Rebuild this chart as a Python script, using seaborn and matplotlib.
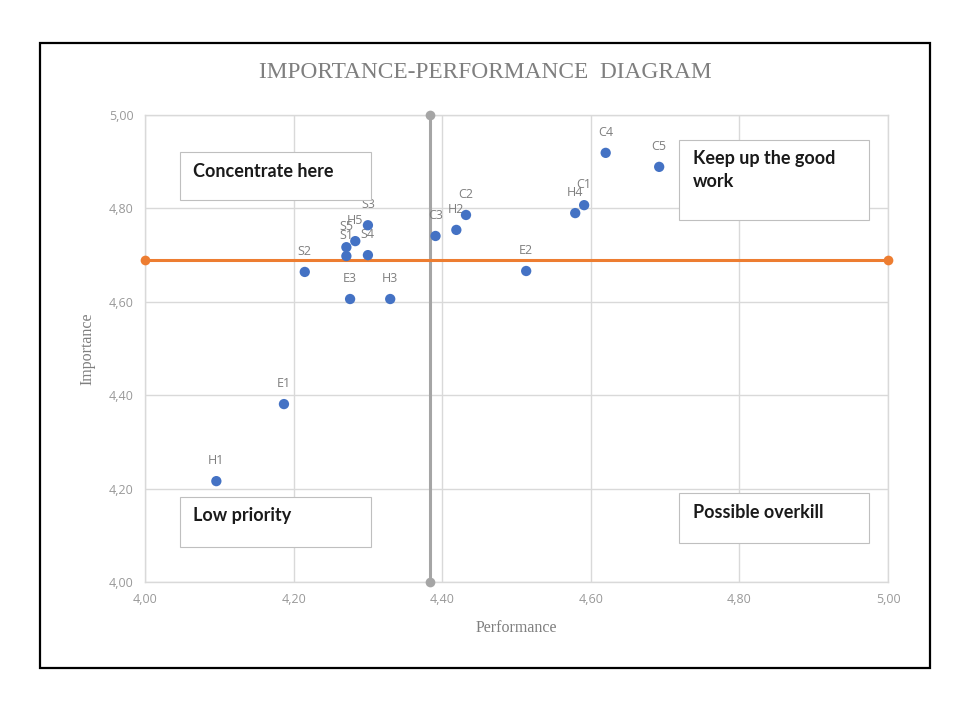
import numpy as np
import pandas as pd
import matplotlib
matplotlib.use("Agg")
import matplotlib.pyplot as plt
import seaborn as sns
from matplotlib.patches import Rectangle
from matplotlib.ticker import FuncFormatter

# valores
labels = ["H1", "E1", "S2", "E3", "H3", "S3", "H5", "S5", "S1", "S4",
          "C3", "H2", "C2", "E2", "H4", "C1", "C4", "C5"]
performance = [4.096, 4.187, 4.215, 4.276, 4.330, 4.300, 4.283, 4.271, 4.271, 4.300,
               4.391, 4.419, 4.432, 4.513, 4.579, 4.591, 4.620, 4.692]
importance = [4.216, 4.381, 4.664, 4.606, 4.606, 4.764, 4.730, 4.717, 4.698, 4.700,
              4.741, 4.754, 4.786, 4.666, 4.790, 4.807, 4.919, 4.889]
perf_mean = 4.383
imp_mean = 4.69
axis_range = [4.0, 5.0]
quadrants = ["Concentrate here", "Keep up the good\nwork", "Low priority", "Possible overkill"]

df = pd.DataFrame({"label": labels, "Performance": performance, "Importance": importance})

sns.set_theme(style="white")
plt.rcParams["font.family"] = ["Liberation Serif", "DejaVu Serif"]

fig = plt.figure(figsize=(9.7, 7.04), dpi=100)
ax = fig.add_axes([0.1495, 0.1733, 0.7660, 0.6633])

# marco negro exterior
fig.patches.append(Rectangle((0.041, 0.051), 0.918, 0.888, transform=fig.transFigure,
                             fill=False, edgecolor="black", linewidth=1.6))

ax.set_xlim(axis_range)
ax.set_ylim(axis_range)
ax.set_xticks(np.arange(4.0, 5.01, 0.2))
ax.set_yticks(np.arange(4.0, 5.01, 0.2))
fmt = FuncFormatter(lambda v, p: f"{v:.2f}".replace(".", ","))
ax.xaxis.set_major_formatter(fmt)
ax.yaxis.set_major_formatter(fmt)
ax.grid(True, color="#d9d9d9", linewidth=1)
ax.set_axisbelow(True)
for s in ax.spines.values():
    s.set_color("#d9d9d9")
    s.set_linewidth(1)
ax.tick_params(length=0, pad=8, labelsize=9, labelcolor="#999999")
for t in ax.get_xticklabels() + ax.get_yticklabels():
    t.set_fontfamily("Open Sans")

# lineas de media
sns.lineplot(x=[perf_mean, perf_mean], y=axis_range, ax=ax, color="#a5a5a5",
             estimator=None, sort=False, linewidth=2.2, marker="o", markersize=7,
             markeredgewidth=0, zorder=3)
sns.lineplot(x=axis_range, y=[imp_mean, imp_mean], ax=ax, color="#ed7d31",
             estimator=None, sort=False, linewidth=2.2, marker="o", markersize=7,
             markeredgewidth=0, zorder=3)
for ln in ax.lines:
    ln.set_clip_on(False)

sns.scatterplot(data=df, x="Performance", y="Importance", ax=ax, color="#4472c4",
                s=55, edgecolor="none", zorder=4)
for _, r in df.iterrows():
    ax.annotate(r["label"], (r["Performance"], r["Importance"]), xytext=(0, 10),
                textcoords="offset points", ha="center", va="bottom",
                fontsize=9, color="#7f7f7f", family="Open Sans")

# cajas de cuadrantes
boxes = [(0.047, 0.819, 0.257, 0.101), (0.719, 0.775, 0.256, 0.172),
         (0.047, 0.075, 0.257, 0.107), (0.719, 0.083, 0.256, 0.107)]
for (x0, y0, w, h), txt in zip(boxes, quadrants):
    ax.add_patch(Rectangle((x0, y0), w, h, transform=ax.transAxes, facecolor="white",
                           edgecolor="#bfbfbf", linewidth=0.8, zorder=5))
    ax.text(x0 + 0.018, y0 + h - 0.022, txt, transform=ax.transAxes, ha="left", va="top",
            fontsize=13, fontweight="bold", family="Lato", color="#1a1a1a",
            linespacing=1.45, zorder=6)

ax.set_xlabel("Performance", fontsize=11.5, color="#7f7f7f", labelpad=10)
ax.set_ylabel("Importance", fontsize=11.5, color="#7f7f7f", labelpad=10)
fig.text(0.5, 0.897, "IMPORTANCE-PERFORMANCE  DIAGRAM", ha="center", va="center",
         fontsize=16.8, color="#7f7f7f")

fig.savefig("out.png", dpi=100, facecolor="white")
